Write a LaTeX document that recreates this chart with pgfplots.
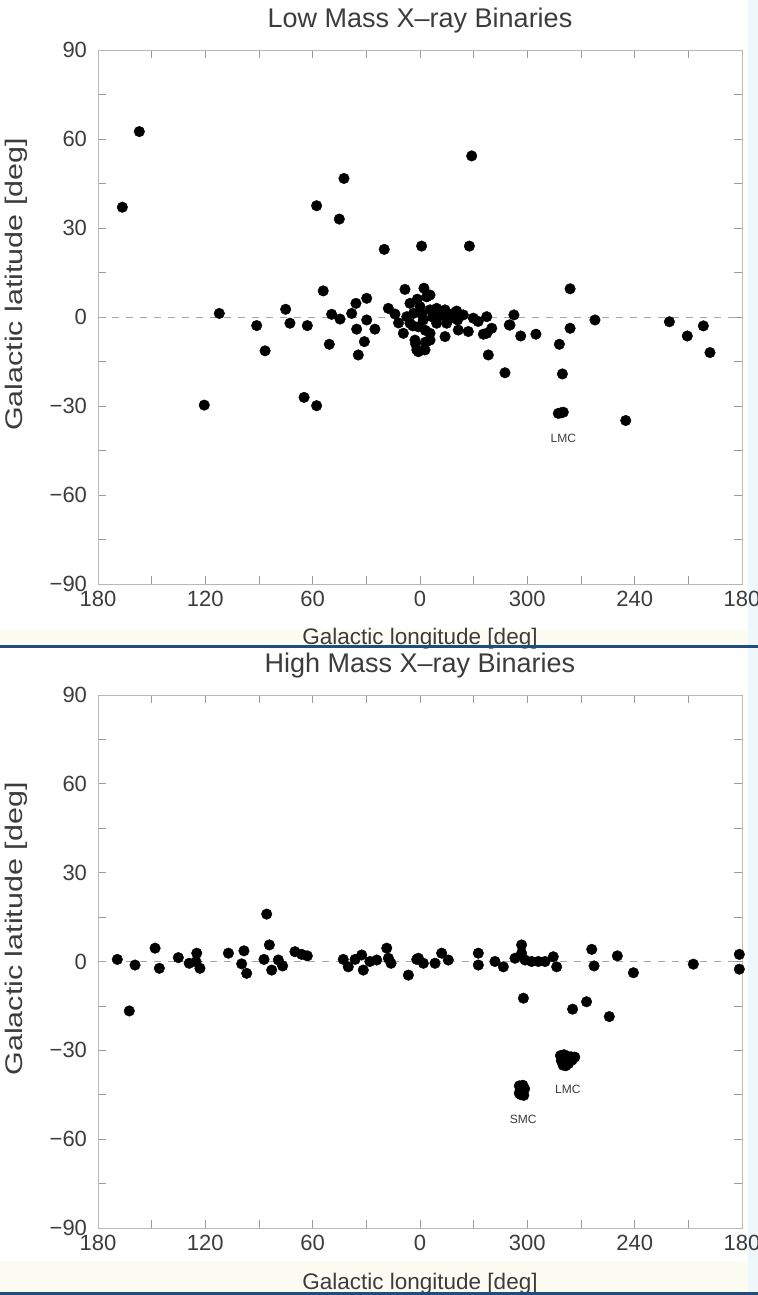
\documentclass[border=0pt]{standalone}
\usepackage{fontspec}
\setmainfont{Liberation Sans}
\usepackage{pgfplots}
\pgfplotsset{compat=1.18}
\definecolor{txt}{HTML}{3C3C3C}
\definecolor{axisgray}{HTML}{B8B8B8}
\definecolor{tickgray}{HTML}{9A9A9A}
\definecolor{sepblue}{HTML}{1F4E7A}
\definecolor{cream}{HTML}{FDFCF2}
\definecolor{paleCyan}{HTML}{EEF7FA}

% LMXB: x = plot position (0 = l 180, 180 = l 0, 360 = l 180 via 300, 240), y = latitude
\pgfplotstableread{
p b
13.6 37.0
23.1 62.5
67.8 1.2
59.4 -29.7
88.7 -2.9
93.4 -11.4
104.9 2.6
107.3 -2.1
117.0 -2.9
115.2 -27.1
122.2 -29.9
122.2 37.5
125.9 8.8
134.9 33.0
137.5 46.7
129.3 -9.2
130.6 0.9
135.3 -0.7
141.8 1.2
144.2 4.6
150.2 6.3
144.6 -4.1
145.5 -12.8
148.9 -8.3
150.2 -1.0
154.8 -4.1
160.0 22.8
180.9 23.9
207.6 23.9
208.9 54.3
162.3 2.9
166.0 1.0
168.0 -2.0
172.6 0.1
171.6 9.3
174.4 4.6
176.3 1.2
178.5 6.0
180.0 3.5
181.0 1.0
182.2 9.7
183.7 6.8
185.6 7.4
185.6 2.4
187.0 0.0
181.8 -1.0
174.4 -2.1
176.0 -3.0
179.1 -3.3
183.0 -4.5
170.7 -5.5
177.2 -7.8
177.5 -9.0
183.0 -8.5
178.2 -11.1
182.8 -11.1
185.6 -5.5
185.6 -7.8
179.1 -11.7
189.3 2.9
189.3 -2.1
191.5 0.5
194.0 2.4
194.9 -2.1
194.0 -6.6
196.5 -0.5
198.6 1.2
200.5 2.0
201.0 -1.0
201.4 -4.4
204.2 0.7
207.0 -4.9
209.8 -0.4
212.5 -1.5
215.4 -5.8
217.3 0.1
217.3 -5.5
220.1 -3.8
218.2 -12.8
227.5 -18.8
229.9 -2.7
232.5 0.7
230.3 -2.7
236.3 -6.4
244.8 -5.8
257.9 -9.2
259.6 -19.2
257.3 -32.5
258.8 -32.3
260.1 -32.1
263.9 9.5
263.9 -3.8
277.8 -1.0
295.0 -34.9
319.4 -1.6
329.4 -6.4
338.4 -3.0
342.1 -12.0
}\lmxb

% HMXB
\pgfplotstableread{
p b
10.8 0.7
17.5 -16.7
20.7 -1.2
31.9 4.5
34.3 -2.3
44.9 1.3
51.0 -0.6
55.2 2.8
54.8 -0.1
57.0 -2.3
72.9 2.8
81.6 3.6
80.3 -0.8
83.1 -4.0
94.3 16.0
95.8 5.6
92.8 0.7
97.1 -2.9
100.8 0.5
103.2 -1.5
110.1 3.3
113.9 2.4
117.0 1.9
137.1 0.7
139.9 -1.8
143.7 0.7
147.4 2.2
148.3 -2.9
152.0 0.0
155.8 0.5
161.4 4.5
162.3 1.1
163.8 -0.6
173.5 -4.6
178.2 0.7
179.1 1.1
181.9 -0.6
188.4 -0.6
192.1 2.8
195.8 0.5
212.6 2.8
212.6 -1.2
221.9 0.0
226.6 -1.8
233.1 1.1
236.8 5.6
236.8 2.8
238.7 0.5
242.4 0.0
246.1 0.0
249.9 0.0
254.5 1.6
256.4 -1.8
237.8 -12.4
265.3 -16.1
273.1 -13.6
276.0 4.1
277.3 -1.5
285.8 -18.6
290.3 1.9
299.3 -3.8
332.8 -0.9
358.5 2.4
358.5 -2.6
235.5 -42.0
237.5 -41.8
238.5 -43.0
236.0 -43.5
237.5 -44.5
236.5 -45.0
238.0 -45.2
235.5 -44.5
258.5 -31.8
260.5 -31.5
262.5 -32.0
264.5 -32.2
266.5 -32.3
259.0 -33.5
261.0 -34.0
263.0 -34.5
260.0 -35.0
262.0 -33.0
265.0 -33.3
261.5 -35.2
}\hmxb

\pgfplotsset{
  xrb/.style={
    scale only axis, width=644bp,
    xmin=0, xmax=360, ymin=-90, ymax=90,
    xtick={0,60,...,360}, xticklabels={180,120,60,0,300,240,180},
    minor xtick={30,90,...,330},
    ytick={-90,-60,...,90}, yticklabels={−90,−60,−30,0,30,60,90},
    minor ytick={-75,-45,...,75},
    tick align=inside, tick pos=both,
    major tick length=8bp, minor tick length=8bp,
    axis line style={draw=axisgray, line width=0.8bp},
    every tick/.style={draw=tickgray, line width=0.8bp},
    tick label style={font=\fontsize{22bp}{26bp}\selectfont, text=txt},
    xticklabel style={yshift=-3.5bp},
    yticklabel style={xshift=-7.5bp},
    every axis x label/.style={at={(axis description cs:0.5,#1)}, anchor=base,
      font=\fontsize{22.5bp}{27bp}\selectfont, text=txt},
    every axis title/.style={at={(axis description cs:0.5,1.043)}, anchor=base,
      font=\fontsize{27bp}{32bp}\selectfont, text=txt},
    every axis y label/.style={at={(axis description cs:-0.127,0.561)}, rotate=90,
      anchor=center, font=\fontsize{24bp}{29bp}\selectfont, text=txt},
    xlabel={Galactic longitude [deg]},
    ylabel={\scalebox{1.27}[1]{Galactic latitude [deg]}},
  },
}

\begin{document}
\begin{tikzpicture}
\useasboundingbox (0,0) rectangle (758bp,1295bp);
% faint background bands of the original slide
\fill[cream] (0,649bp) rectangle (758bp,666bp);
\fill[cream] (0,3bp) rectangle (758bp,34bp);
\fill[paleCyan] (748bp,0) rectangle (758bp,1295bp);

\begin{axis}[xrb=-0.114, height=534bp, at={(98bp,711bp)}, anchor=south west,
  title={Low Mass X–ray Binaries}]
  \addplot[draw=gray!70, dash pattern=on 7bp off 7bp, line width=0.8bp] coordinates {(0,0) (360,0)};
  \addplot[only marks, mark=*, mark size=5.3bp, black] table[x=p,y=b] {\lmxb};
  \node[font=\fontsize{12bp}{14bp}\selectfont, text=txt] at (axis cs:260.1,-40.9) {LMC};
\end{axis}

\begin{axis}[xrb=-0.116, height=533bp, at={(98bp,67bp)}, anchor=south west,
  title={High Mass X–ray Binaries}]
  \addplot[draw=gray!70, dash pattern=on 7bp off 7bp, line width=0.8bp] coordinates {(0,0) (360,0)};
  \addplot[only marks, mark=*, mark size=5.3bp, black] table[x=p,y=b] {\hmxb};
  \node[font=\fontsize{12bp}{14bp}\selectfont, text=txt] at (axis cs:262.6,-43.2) {LMC};
  \node[font=\fontsize{12bp}{14bp}\selectfont, text=txt] at (axis cs:237.7,-53.3) {SMC};
\end{axis}

\draw[sepblue, line width=3bp] (0,648bp) -- (758bp,648bp);
\draw[sepblue, line width=3bp] (0,1.5bp) -- (758bp,1.5bp);
\end{tikzpicture}
\end{document}
